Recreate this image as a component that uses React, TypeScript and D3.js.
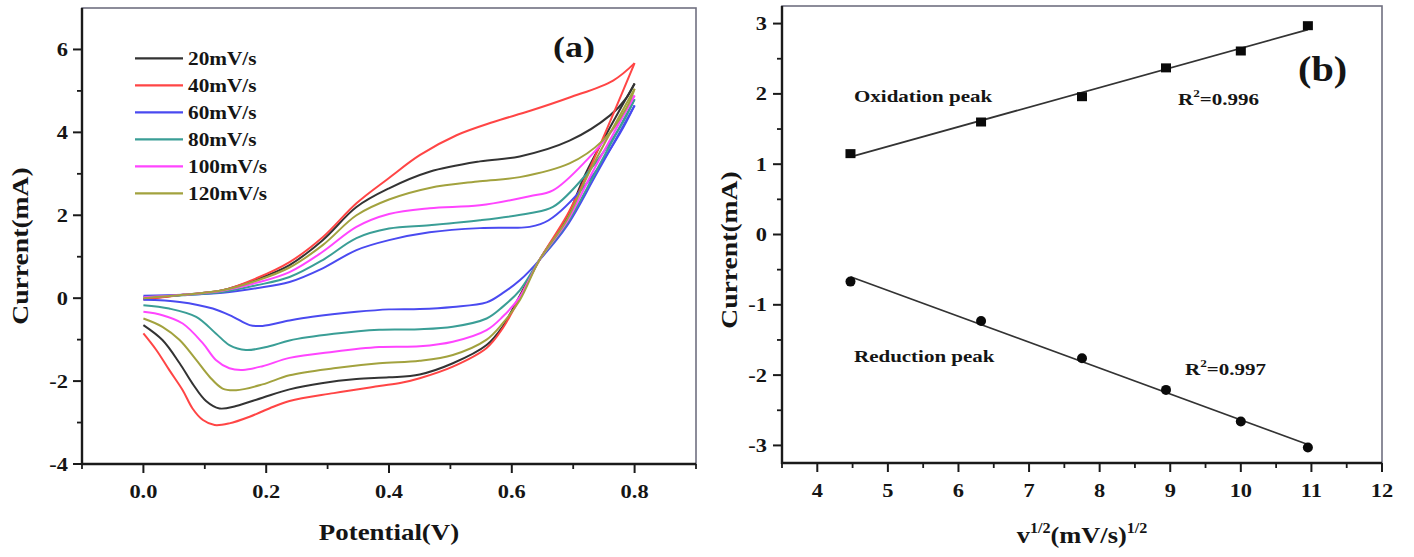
import React from "react";
import * as d3 from "d3";

const FONT = '"Liberation Serif", "Times New Roman", Times, serif';

// ---- panel (a): cyclic voltammograms ----
const scanRates = ["20mV/s", "40mV/s", "60mV/s", "80mV/s", "100mV/s", "120mV/s"];
const curveColors = ["#333333", "#ff4545", "#4a4af0", "#3a9e96", "#ff45ff", "#a2a23e"];

// [potential (V), current (mA)] anodic sweep 0 -> 0.8 V
const fwd20 = [[0, -0.02], [0.065, 0.08], [0.129, 0.19], [0.184, 0.45], [0.238, 0.8], [0.292, 1.4], [0.347, 2.2], [0.4, 2.65], [0.466, 3.05], [0.548, 3.3], [0.613, 3.42], [0.694, 3.8], [0.76, 4.41], [0.787, 4.84], [0.8, 5.18]];
const fwd40 = [[0, -0.03], [0.065, 0.08], [0.129, 0.19], [0.184, 0.48], [0.238, 0.87], [0.292, 1.47], [0.347, 2.29], [0.4, 2.9], [0.45, 3.45], [0.51, 3.93], [0.57, 4.25], [0.63, 4.52], [0.694, 4.84], [0.765, 5.25], [0.8, 5.67]];
const fwd60 = [[0, 0.06], [0.065, 0.08], [0.129, 0.13], [0.184, 0.24], [0.238, 0.39], [0.292, 0.72], [0.347, 1.16], [0.4, 1.4], [0.466, 1.59], [0.548, 1.69], [0.6, 1.7], [0.629, 1.72], [0.66, 1.88], [0.722, 2.77], [0.776, 3.97], [0.8, 4.65]];
const fwd80 = [[0, 0.03], [0.065, 0.07], [0.129, 0.15], [0.184, 0.31], [0.238, 0.51], [0.292, 0.92], [0.347, 1.45], [0.4, 1.68], [0.466, 1.76], [0.548, 1.88], [0.629, 2.05], [0.667, 2.2], [0.722, 3.0], [0.776, 4.12], [0.8, 4.8]];
const fwd100 = [[0, 0.02], [0.065, 0.08], [0.129, 0.18], [0.184, 0.37], [0.238, 0.63], [0.292, 1.12], [0.347, 1.72], [0.4, 2.03], [0.466, 2.17], [0.548, 2.24], [0.629, 2.46], [0.667, 2.6], [0.722, 3.33], [0.776, 4.29], [0.8, 4.89]];
const fwd120 = [[0, 0], [0.065, 0.08], [0.129, 0.19], [0.184, 0.42], [0.238, 0.74], [0.292, 1.28], [0.347, 2.0], [0.4, 2.38], [0.466, 2.66], [0.548, 2.82], [0.613, 2.92], [0.694, 3.25], [0.748, 3.8], [0.787, 4.6], [0.8, 5.05]];

// cathodic sweep 0.8 -> 0 V
const rev20 = [[0.8, 5.18], [0.72, 3.0], [0.69, 1.95], [0.645, 0.92], [0.6, -0.3], [0.585, -0.69], [0.559, -1.13], [0.504, -1.57], [0.45, -1.84], [0.4, -1.91], [0.347, -1.95], [0.29, -2.05], [0.238, -2.2], [0.194, -2.4], [0.151, -2.6], [0.124, -2.66], [0.102, -2.48], [0.08, -2.06], [0.059, -1.57], [0.031, -1.01], [0, -0.65]];
const rev40 = [[0.8, 5.67], [0.723, 3.0], [0.69, 2.0], [0.645, 0.92], [0.6, -0.35], [0.585, -0.73], [0.559, -1.2], [0.504, -1.65], [0.45, -1.93], [0.42, -2.04], [0.384, -2.12], [0.31, -2.29], [0.238, -2.48], [0.205, -2.66], [0.173, -2.86], [0.14, -3.02], [0.116, -3.06], [0.097, -2.94], [0.08, -2.66], [0.064, -2.22], [0.042, -1.73], [0.021, -1.25], [0, -0.85]];
const rev60 = [[0.8, 4.65], [0.738, 3.0], [0.69, 1.75], [0.645, 0.92], [0.613, 0.43], [0.585, 0.12], [0.559, -0.1], [0.504, -0.21], [0.45, -0.26], [0.4, -0.27], [0.347, -0.33], [0.275, -0.45], [0.238, -0.54], [0.194, -0.67], [0.173, -0.65], [0.146, -0.45], [0.113, -0.25], [0.059, -0.09], [0, -0.04]];
const rev80 = [[0.8, 4.8], [0.735, 3.0], [0.69, 1.8], [0.645, 0.92], [0.613, 0.19], [0.585, -0.21], [0.559, -0.49], [0.504, -0.69], [0.45, -0.75], [0.384, -0.76], [0.31, -0.86], [0.238, -1.02], [0.205, -1.16], [0.167, -1.25], [0.14, -1.13], [0.118, -0.85], [0.086, -0.45], [0.042, -0.25], [0, -0.17]];
const rev100 = [[0.8, 4.89], [0.73, 3.0], [0.69, 1.85], [0.645, 0.92], [0.613, 0.03], [0.585, -0.45], [0.559, -0.77], [0.504, -1.05], [0.45, -1.16], [0.384, -1.18], [0.31, -1.29], [0.238, -1.44], [0.194, -1.64], [0.162, -1.73], [0.14, -1.69], [0.118, -1.49], [0.097, -1.09], [0.064, -0.61], [0.031, -0.41], [0, -0.33]];
const rev120 = [[0.8, 5.05], [0.725, 3.0], [0.69, 1.9], [0.645, 0.92], [0.613, -0.05], [0.585, -0.61], [0.559, -1.0], [0.504, -1.37], [0.45, -1.51], [0.384, -1.57], [0.31, -1.69], [0.238, -1.86], [0.194, -2.08], [0.151, -2.22], [0.129, -2.18], [0.108, -1.9], [0.086, -1.49], [0.059, -1.01], [0.031, -0.69], [0, -0.49]];

const cvForward = [fwd20, fwd40, fwd60, fwd80, fwd100, fwd120];
const cvReverse = [rev20, rev40, rev60, rev80, rev100, rev120];

const cvXTicks = [0, 0.2, 0.4, 0.6, 0.8];
const cvXMinor = [-0.1, 0.1, 0.3, 0.5, 0.7, 0.9];
const cvYTicks = [-4, -2, 0, 2, 4, 6];
const cvYMinor = [-3, -1, 1, 3, 5];

// ---- panel (b): peak current vs sqrt(scan rate) ----
const sqrtRate = [4.47, 6.32, 7.75, 8.94, 10.0, 10.95];
const oxidationPeak = [1.15, 1.6, 1.96, 2.37, 2.61, 2.97];
const reductionPeak = [-0.67, -1.23, -1.76, -2.21, -2.66, -3.03];

const fitXTicks = [4, 5, 6, 7, 8, 9, 10, 11, 12];
const fitXMinor = [3.5, 4.5, 5.5, 6.5, 7.5, 8.5, 9.5, 10.5, 11.5];
const fitYTicks = [-3, -2, -1, 0, 1, 2, 3];
const fitYMinor = [-2.5, -1.5, -0.5, 0.5, 1.5, 2.5];

const W = 1414;
const H = 557;

const A = { left: 82, right: 696, top: 8, bottom: 464 };
const B = { left: 782, right: 1382, top: 6, bottom: 463 };

const xA = d3.scaleLinear().domain([-0.1, 0.9]).range([A.left, A.right]);
const yA = d3.scaleLinear().domain([-4, 7]).range([A.bottom, A.top]);
const xB = d3.scaleLinear().domain([3.5, 12]).range([B.left, B.right]);
const yB = d3.scaleLinear().domain([-3.25, 3.25]).range([B.bottom, B.top]);

const linearFit = (xs: number[], ys: number[]) => {
  const mx = d3.mean(xs)!;
  const my = d3.mean(ys)!;
  const sxy = d3.sum(xs, (x, i) => (x - mx) * (ys[i] - my));
  const sxx = d3.sum(xs, (x) => (x - mx) * (x - mx));
  const k = sxy / sxx;
  return (x: number) => my + k * (x - mx);
};

const Txt = ({ x, y, size, anchor = "start", sx = 1.18, weight = "bold", children }: any) => (
  <text
    transform={`translate(${x},${y}) scale(${sx},1)`}
    fontSize={size}
    textAnchor={anchor}
    fontFamily={FONT}
    fontWeight={weight}
    fill="#151515"
  >
    {children}
  </text>
);

const Frame = ({ box, xs, ys, xTicks, xMinor, yTicks, yMinor, fmtX, fmtY, xLabelY, yLabelX }: any) => (
  <g>
    <rect
      x={box.left}
      y={box.top}
      width={box.right - box.left}
      height={box.bottom - box.top}
      fill="none"
      stroke="#707080"
      strokeWidth={1.6}
    />
    <line x1={box.left} x2={box.left} y1={box.top} y2={box.bottom + 1} stroke="#1a1a1a" strokeWidth={2.4} />
    <line x1={box.left - 1} x2={box.right} y1={box.bottom} y2={box.bottom} stroke="#1a1a1a" strokeWidth={2.4} />
    {xTicks.map((t: number) => (
      <g key={"xt" + t}>
        <line x1={xs(t)} x2={xs(t)} y1={box.bottom} y2={box.bottom + 9} stroke="#1a1a1a" strokeWidth={2} />
        <Txt x={xs(t)} y={xLabelY} size={19} anchor="middle">{fmtX(t)}</Txt>
      </g>
    ))}
    {xMinor.map((t: number) => (
      <line key={"xm" + t} x1={xs(t)} x2={xs(t)} y1={box.bottom} y2={box.bottom + 5} stroke="#1a1a1a" strokeWidth={1.8} />
    ))}
    {yTicks.map((t: number) => (
      <g key={"yt" + t}>
        <line x1={box.left - 9} x2={box.left} y1={ys(t)} y2={ys(t)} stroke="#1a1a1a" strokeWidth={2} />
        <Txt x={yLabelX} y={ys(t) + 6.5} size={19} anchor="end">{fmtY(t)}</Txt>
      </g>
    ))}
    {yMinor.map((t: number) => (
      <line key={"ym" + t} x1={box.left - 5} x2={box.left} y1={ys(t)} y2={ys(t)} stroke="#1a1a1a" strokeWidth={1.8} />
    ))}
  </g>
);

const YTitle = ({ x, y }: { x: number; y: number }) => (
  <text
    transform={`translate(${x},${y}) rotate(-90) scale(1.2,1)`}
    fontSize={23}
    textAnchor="middle"
    fontFamily={FONT}
    fontWeight="bold"
    fill="#151515"
  >
    Current(mA)
  </text>
);

const App = () => {
  const cvLine = d3
    .line<number[]>()
    .x((d) => xA(d[0]))
    .y((d) => yA(d[1]))
    .curve(d3.curveCatmullRom.alpha(0.5));

  const oxFit = linearFit(sqrtRate, oxidationPeak);
  const redFit = linearFit(sqrtRate, reductionPeak);
  const x0 = sqrtRate[0];
  const x1 = sqrtRate[sqrtRate.length - 1];
  const minus = (t: number) => (t < 0 ? "-" + Math.abs(t) : String(t));

  return (
    <svg width={W} height={H} style={{ position: "absolute", left: 0, top: 0, background: "#fff" }}>
      {/* panel (a) */}
      <Frame
        box={A}
        xs={xA}
        ys={yA}
        xTicks={cvXTicks}
        xMinor={cvXMinor}
        yTicks={cvYTicks}
        yMinor={cvYMinor}
        fmtX={(t: number) => t.toFixed(1)}
        fmtY={minus}
        xLabelY={498}
        yLabelX={68}
      />
      {cvForward.map((d, i) => (
        <g key={"cv" + i} fill="none" stroke={curveColors[i]} strokeWidth={2}>
          <path d={cvLine(d as number[][]) || ""} />
          <path d={cvLine(cvReverse[i] as number[][]) || ""} />
        </g>
      ))}
      {scanRates.map((s, i) => (
        <g key={s}>
          <line x1={135} x2={183} y1={58.3 + 27 * i} y2={58.3 + 27 * i} stroke={curveColors[i]} strokeWidth={2.2} />
          <Txt x={188} y={58.3 + 27 * i + 6.5} size={19} sx={1.12}>{s}</Txt>
        </g>
      ))}
      <Txt x={553} y={57} size={30} sx={1.2}>(a)</Txt>
      <Txt x={(A.left + A.right) / 2} y={540} size={23} anchor="middle" sx={1.17}>Potential(V)</Txt>
      <YTitle x={28} y={246} />

      {/* panel (b) */}
      <Frame
        box={B}
        xs={xB}
        ys={yB}
        xTicks={fitXTicks}
        xMinor={fitXMinor}
        yTicks={fitYTicks}
        yMinor={fitYMinor}
        fmtX={String}
        fmtY={minus}
        xLabelY={497}
        yLabelX={767}
      />
      <line x1={xB(x0)} x2={xB(x1)} y1={yB(oxFit(x0))} y2={yB(oxFit(x1))} stroke="#333" strokeWidth={1.7} />
      <line x1={xB(x0)} x2={xB(x1)} y1={yB(redFit(x0))} y2={yB(redFit(x1))} stroke="#333" strokeWidth={1.7} />
      {sqrtRate.map((v, i) => (
        <rect key={"sq" + i} x={xB(v) - 5} y={yB(oxidationPeak[i]) - 4.5} width={10} height={9} fill="#0a0a0a" />
      ))}
      {sqrtRate.map((v, i) => (
        <circle key={"ci" + i} cx={xB(v)} cy={yB(reductionPeak[i])} r={5} fill="#0a0a0a" />
      ))}
      <Txt x={854} y={102} size={17.5} sx={1.2}>Oxidation peak</Txt>
      <Txt x={854} y={362} size={17.5} sx={1.2}>Reduction peak</Txt>
      <Txt x={1178} y={105} size={17.5} sx={1.2}>
        R<tspan fontSize={11} dy={-8}>2</tspan>
        <tspan dy={8}>=0.996</tspan>
      </Txt>
      <Txt x={1185} y={375} size={17.5} sx={1.2}>
        R<tspan fontSize={11} dy={-8}>2</tspan>
        <tspan dy={8}>=0.997</tspan>
      </Txt>
      <Txt x={1298} y={81} size={35} sx={1.15}>(b)</Txt>
      <Txt x={(B.left + B.right) / 2} y={543} size={23} anchor="middle" sx={1.15}>
        v<tspan fontSize={14} dy={-10}>1/2</tspan>
        <tspan dy={10}>(mV/s)</tspan>
        <tspan fontSize={14} dy={-10}>1/2</tspan>
      </Txt>
      <YTitle x={737} y={250} />
    </svg>
  );
};

export default App;
